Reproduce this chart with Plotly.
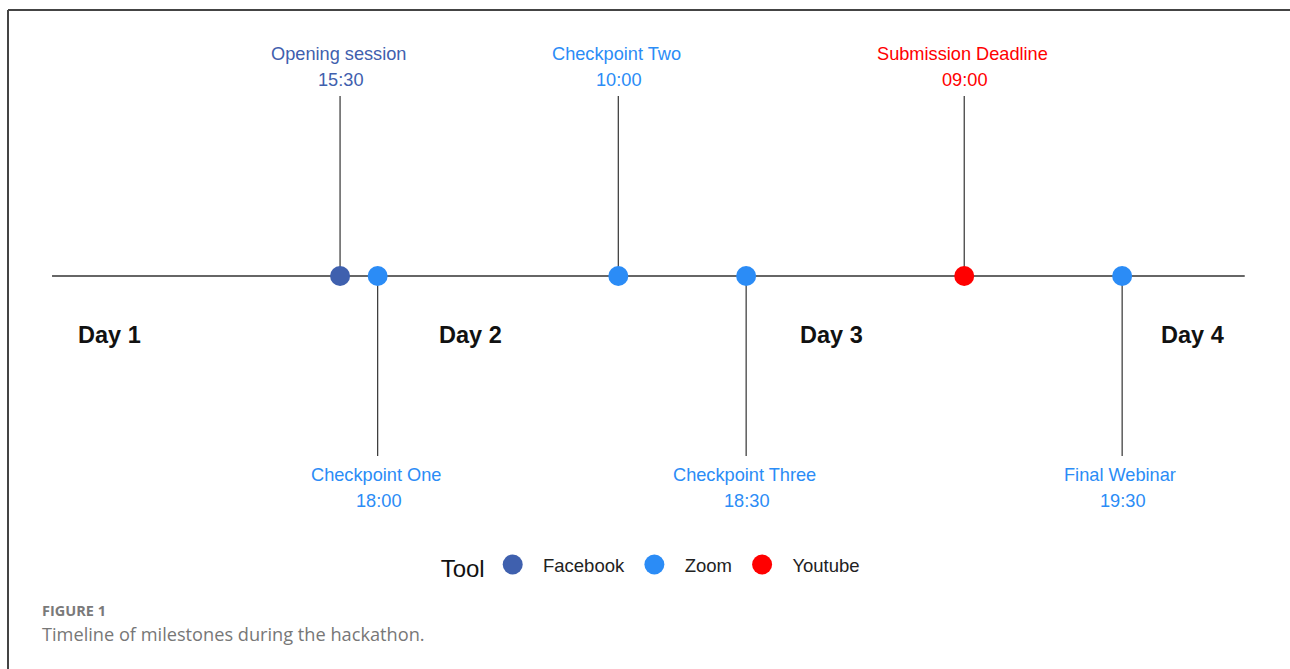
import plotly.graph_objects as go

# Milestones of the hackathon
EVENTS = ["Opening session", "Checkpoint One", "Checkpoint Two",
          "Checkpoint Three", "Submission Deadline", "Final Webinar"]
DAYS = [1, 1, 2, 2, 3, 3]
TIMES = ["15:30", "18:00", "10:00", "18:30", "09:00", "19:30"]
TOOLS = ["Facebook", "Zoom", "Zoom", "Zoom", "Youtube", "Zoom"]
SIDE = ["above", "below", "above", "below", "above", "below"]

DAY_LABELS = ["Day 1", "Day 2", "Day 3", "Day 4"]
DAY_STARTS = [0, 24, 48, 72]

TOOL_ORDER = ["Facebook", "Zoom", "Youtube"]
TOOL_COLORS = {"Facebook": "#3F60AE", "Zoom": "#2B8CF6", "Youtube": "#FF0000"}

_FONT = "Liberation Sans, Arial, sans-serif"
_C_LINE = "#333333"
_NB = "\u00a0"

# vertical layout in pixel-like units (timeline at 0)
_STEM = 180
_NAME_OFF = 42
_TIME_OFF = 16


def hours(day, hhmm):
    h, m = hhmm.split(":")
    return (day - 1) * 24 + int(h) + int(m) / 60


xs = [hours(d, t) for d, t in zip(DAYS, TIMES)]

fig = go.Figure()

# main timeline
fig.add_trace(go.Scatter(
    x=[-3.65, 75.65], y=[0, 0], mode="lines",
    line={"color": _C_LINE, "width": 1.6}, showlegend=False, hoverinfo="skip",
))

# stems
sx, sy = [], []
for x, s in zip(xs, SIDE):
    sx += [x, x, None]
    sy += [0, _STEM if s == "above" else -_STEM, None]
fig.add_trace(go.Scatter(
    x=sx, y=sy, mode="lines",
    line={"color": _C_LINE, "width": 1.2}, showlegend=False, hoverinfo="skip",
))

# markers, one trace per tool for the legend
for tool in TOOL_ORDER:
    px_ = [x for x, t in zip(xs, TOOLS) if t == tool]
    fig.add_trace(go.Scatter(
        x=px_, y=[0] * len(px_), mode="markers", name=_NB * 2 + tool + _NB,
        marker={"color": TOOL_COLORS[tool], "size": 20, "line": {"width": 0}},
        hoverinfo="skip",
    ))

annotations = []
for x, name, t, tool, s in zip(xs, EVENTS, TIMES, TOOLS, SIDE):
    c = TOOL_COLORS[tool]
    if s == "above":
        yn, yt = _STEM + _NAME_OFF, _STEM + _TIME_OFF
    else:
        yn, yt = -_STEM - 19, -_STEM - 45
    for txt, yy, shift in ((name, yn, -2), (t, yt, 1)):
        annotations.append(dict(
            x=x, y=yy, text=txt, showarrow=False, xanchor="center", yanchor="middle",
            xshift=shift, font={"family": _FONT, "size": 18.2, "color": c},
        ))

for d, lab in zip(DAY_STARTS, DAY_LABELS):
    annotations.append(dict(
        x=d + 0.2, y=-59, text=f"<b>{lab}</b>", showarrow=False,
        font={"family": _FONT, "size": 23.5, "color": "#111111"},
    ))

# caption
annotations += [
    dict(xref="paper", yref="paper", x=40 / 1290, y=1 - 610 / 669, xanchor="left", yanchor="middle",
         text="<b>FIGURE 1</b>", showarrow=False,
         font={"family": "Open Sans, sans-serif", "size": 14.5, "color": "#7a7a7a"}),
    dict(xref="paper", yref="paper", x=40 / 1290, y=1 - 634 / 669, xanchor="left", yanchor="middle",
         text="Timeline of milestones during the hackathon.", showarrow=False,
         font={"family": "Open Sans, sans-serif", "size": 18.2, "color": "#777777"}),
]

fig.update_layout(
    width=1290, height=669,
    margin={"l": 0, "r": 0, "t": 0, "b": 0},
    paper_bgcolor="white", plot_bgcolor="white",
    xaxis={"range": [-7.11, 78.66], "visible": False, "fixedrange": True},
    yaxis={"range": [-393, 276], "visible": False, "fixedrange": True},
    annotations=annotations,
    showlegend=True,
    legend={
        "orientation": "h", "x": 0.5075, "xanchor": "center", "y": 1 - 567 / 669, "yanchor": "middle",
        "title": {"text": "Tool", "font": {"family": _FONT, "size": 24, "color": "#111111"}},
        "font": {"family": _FONT, "size": 18.5, "color": "#222222"},
        "bgcolor": "rgba(0,0,0,0)",
    },
    shapes=[
        dict(type="line", xref="paper", yref="paper", x0=8 / 1290, x1=1, y0=1 - 10 / 669, y1=1 - 10 / 669,
             line={"color": "#444444", "width": 2}),
        dict(type="line", xref="paper", yref="paper", x0=8 / 1290, x1=8 / 1290, y0=0, y1=1 - 10 / 669,
             line={"color": "#444444", "width": 2}),
    ],
    hovermode=False,
)

# drop the page margin and enlarge the legend dots (plotly caps them at 16px)
_JS = """
document.body.style.margin='0';
document.querySelectorAll('.legend .legendpoints path.scatterpts').forEach(function(p){
  p.setAttribute('transform', (p.getAttribute('transform') || '') + ' scale(1.25)');
});
"""
fig.write_html("out.html", config={"displayModeBar": False}, post_script=_JS)
